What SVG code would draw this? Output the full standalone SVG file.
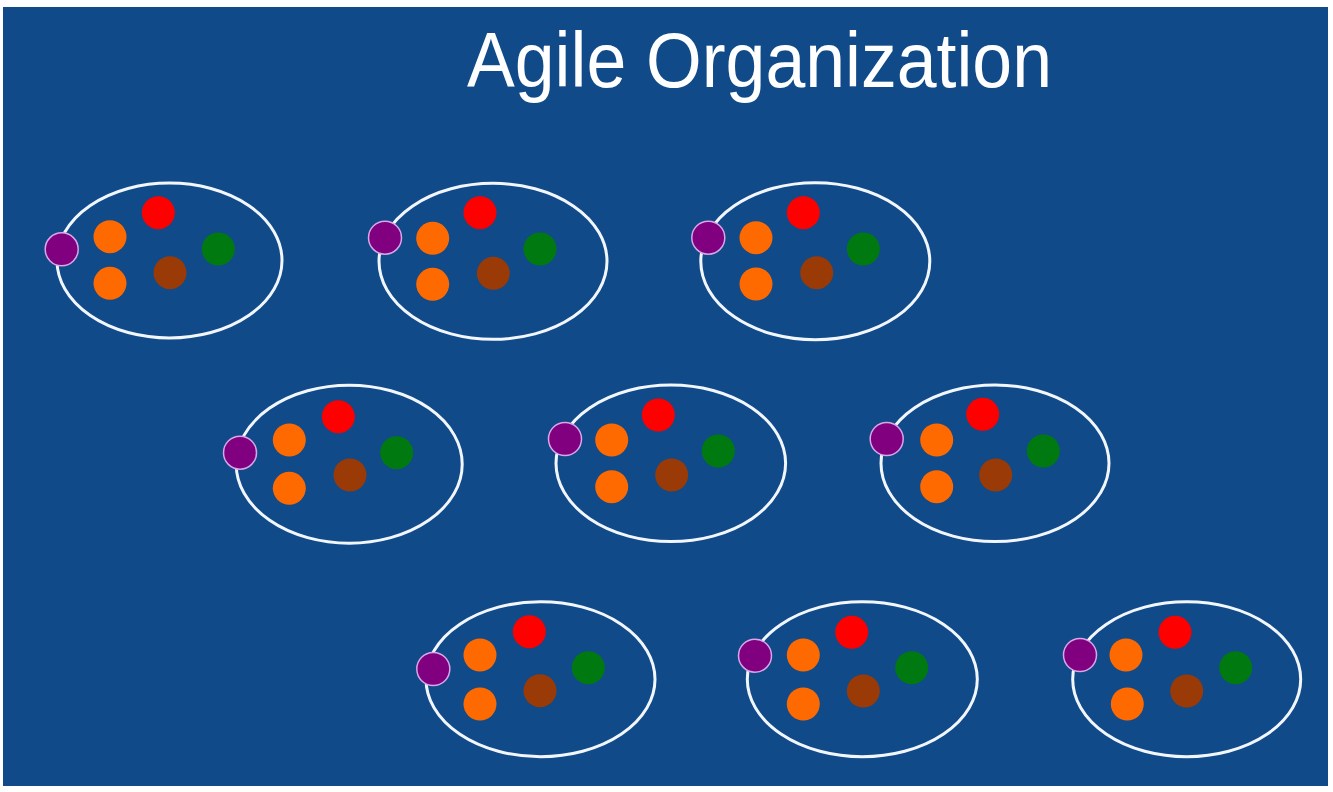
<svg xmlns="http://www.w3.org/2000/svg" width="1333" height="792" viewBox="0 0 1333 792">
<style>
.bg{fill:#104A89}
.team{fill:none;stroke:#F2F6FF;stroke-width:3}
.p{fill:#800080;stroke:#D9A6E6;stroke-width:1.5}
.o{fill:#FF6A00}
.r{fill:#FF0000}
.b{fill:#9A3A06}
.g{fill:#007A10}
.title{font-family:"Liberation Sans",Arial,sans-serif;fill:#FFFFFF;font-size:78px}
</style>
<rect x="0" y="0" width="1333" height="792" fill="#FFFFFF"/>
<rect class="bg" x="3" y="7" width="1325" height="779"/>
<text class="title" x="467" y="87" textLength="585" lengthAdjust="spacingAndGlyphs">Agile Organization</text>
<g id="connectors"/>
<g id="team1">
<ellipse class="team" cx="169.5" cy="260.5" rx="112.5" ry="77.5"/>
<circle class="o" cx="110" cy="236.7" r="16.5"/><circle class="o" cx="110" cy="283.3" r="16.5"/>
<circle class="r" cx="158.3" cy="212.7" r="16.5"/><circle class="b" cx="170" cy="272.7" r="16.5"/>
<circle class="g" cx="218.3" cy="249" r="16.5"/><circle class="p" cx="61.7" cy="249.3" r="16.5"/>
</g>
<g id="team2">
<ellipse class="team" cx="493" cy="261.3" rx="114" ry="78"/>
<circle class="o" cx="432.7" cy="238.3" r="16.5"/><circle class="o" cx="432.7" cy="284.3" r="16.5"/>
<circle class="r" cx="480" cy="212.7" r="16.5"/><circle class="b" cx="493.3" cy="273.3" r="16.5"/>
<circle class="g" cx="540" cy="249" r="16.5"/><circle class="p" cx="385" cy="237.7" r="16.5"/>
</g>
<g id="team3">
<ellipse class="team" cx="815.3" cy="261.3" rx="114.5" ry="78.5"/>
<circle class="o" cx="756" cy="237.7" r="16.5"/><circle class="o" cx="756" cy="284" r="16.5"/>
<circle class="r" cx="803.3" cy="212.7" r="16.5"/><circle class="b" cx="816.7" cy="272.7" r="16.5"/>
<circle class="g" cx="863.3" cy="249" r="16.5"/><circle class="p" cx="708.3" cy="237.7" r="16.5"/>
</g>
<g id="team4">
<ellipse class="team" cx="349.2" cy="464.2" rx="113" ry="79"/>
<circle class="o" cx="289.3" cy="440" r="16.5"/><circle class="o" cx="289.3" cy="488.3" r="16.5"/>
<circle class="r" cx="338.3" cy="416.7" r="16.5"/><circle class="b" cx="350" cy="475" r="16.5"/>
<circle class="g" cx="396.7" cy="452.7" r="16.5"/><circle class="p" cx="240" cy="452.7" r="16.5"/>
</g>
<g id="team5">
<ellipse class="team" cx="670.8" cy="463.3" rx="114.8" ry="78.3"/>
<circle class="o" cx="611.7" cy="440" r="16.5"/><circle class="o" cx="611.7" cy="486.7" r="16.5"/>
<circle class="r" cx="658.3" cy="415" r="16.5"/><circle class="b" cx="671.7" cy="475" r="16.5"/>
<circle class="g" cx="718.3" cy="451" r="16.5"/><circle class="p" cx="565" cy="439" r="16.5"/>
</g>
<g id="team6">
<ellipse class="team" cx="995" cy="463.3" rx="114" ry="78.3"/>
<circle class="o" cx="936.7" cy="440" r="16.5"/><circle class="o" cx="936.7" cy="486.7" r="16.5"/>
<circle class="r" cx="982.7" cy="414.3" r="16.5"/><circle class="b" cx="995.7" cy="475" r="16.5"/>
<circle class="g" cx="1043.3" cy="451" r="16.5"/><circle class="p" cx="886.7" cy="439" r="16.5"/>
</g>
<g id="team7">
<ellipse class="team" cx="540.5" cy="679.2" rx="114.5" ry="77.5"/>
<circle class="o" cx="480" cy="655" r="16.5"/><circle class="o" cx="480" cy="704" r="16.5"/>
<circle class="r" cx="529.3" cy="631.7" r="16.5"/><circle class="b" cx="540" cy="690.7" r="16.5"/>
<circle class="g" cx="588.3" cy="667.7" r="16.5"/><circle class="p" cx="433.3" cy="669" r="16.5"/>
</g>
<g id="team8">
<ellipse class="team" cx="862.3" cy="679.2" rx="115" ry="77.5"/>
<circle class="o" cx="803.3" cy="655" r="16.5"/><circle class="o" cx="803.3" cy="704" r="16.5"/>
<circle class="r" cx="851.7" cy="632.3" r="16.5"/><circle class="b" cx="863.3" cy="691" r="16.5"/>
<circle class="g" cx="911.7" cy="667.7" r="16.5"/><circle class="p" cx="755" cy="655.7" r="16.5"/>
</g>
<g id="team9">
<ellipse class="team" cx="1186.7" cy="679.2" rx="114" ry="77.5"/>
<circle class="o" cx="1126" cy="655" r="16.5"/><circle class="o" cx="1127.3" cy="704" r="16.5"/>
<circle class="r" cx="1175" cy="632.3" r="16.5"/><circle class="b" cx="1186.7" cy="691" r="16.5"/>
<circle class="g" cx="1235.7" cy="667.7" r="16.5"/><circle class="p" cx="1080" cy="655" r="16.5"/>
</g>
</svg>
